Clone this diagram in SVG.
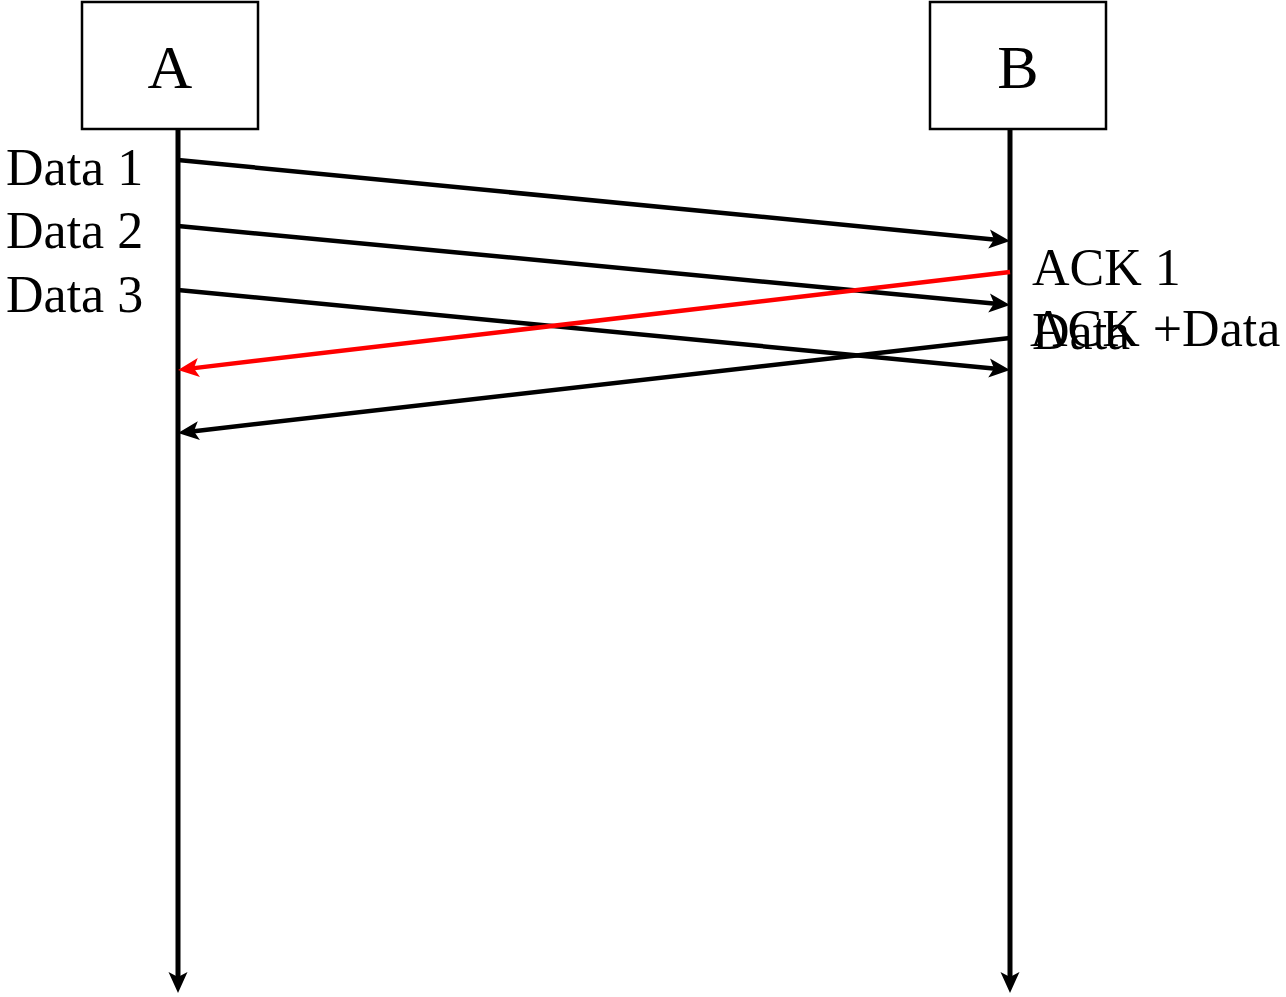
<svg xmlns="http://www.w3.org/2000/svg" width="1286" height="997" viewBox="0 0 1286 997">
<style>
.box{fill:#fff;stroke:#000;stroke-width:2.5}
.t{font-family:"Liberation Serif","Times New Roman",serif;fill:#000}
.life{stroke:#000;stroke-width:5;fill:none}
.msg{stroke:#000;stroke-width:4.5;fill:none}
.red{stroke:#ff0000;stroke-width:4.5;fill:none}
</style>
<defs>
<path id="head" d="M0,0 L-21,-9.5 L-16,0 L-21,9.5 Z"/>
</defs>
<g id="nodeA">
<rect class="box" x="82" y="2" width="176" height="127"/>
<text class="t" x="170" y="88" font-size="62" text-anchor="middle">A</text>
</g>
<g id="nodeB">
<rect class="box" x="930" y="2" width="176" height="127"/>
<text class="t" x="1018" y="88" font-size="62" text-anchor="middle">B</text>
</g>
<g id="labels">
<text class="t" x="6" y="185" font-size="52">Data 1</text>
<text class="t" x="6" y="248" font-size="52">Data 2</text>
<text class="t" x="6" y="312" font-size="52">Data 3</text>
<text class="t" x="1032" y="285" font-size="52">ACK 1</text>
<text class="t" x="1030" y="346" font-size="52">ACK +Data</text>
<text class="t" x="1032" y="349" font-size="52">Data</text>
</g>
<g id="connectors">
<line class="life" x1="178" y1="129" x2="178" y2="979"/>
<use href="#head" transform="translate(178,993) rotate(90)" fill="#000"/>
<line class="life" x1="1010" y1="129" x2="1010" y2="979"/>
<use href="#head" transform="translate(1010,993) rotate(90)" fill="#000"/>
<line class="msg" x1="178" y1="160" x2="996.07" y2="239.64"/>
<use href="#head" transform="translate(1010,241) rotate(5.56)" fill="#000"/>
<line class="msg" x1="178" y1="226" x2="996.06" y2="303.68"/>
<use href="#head" transform="translate(1010,305) rotate(5.42)" fill="#000"/>
<line class="msg" x1="178" y1="290" x2="996.06" y2="368.66"/>
<use href="#head" transform="translate(1010,370) rotate(5.49)" fill="#000"/>
<line class="red" x1="1010" y1="272" x2="191.9" y2="368.36"/>
<use href="#head" transform="translate(178,370) rotate(173.28)" fill="#ff0000"/>
<line class="msg" x1="1010" y1="338" x2="191.91" y2="431.41"/>
<use href="#head" transform="translate(178,433) rotate(173.49)" fill="#000"/>
</g>
</svg>
